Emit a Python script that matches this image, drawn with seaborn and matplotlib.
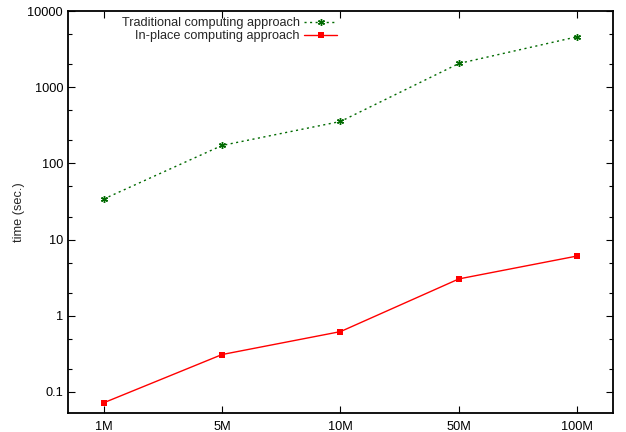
import numpy as np
import pandas as pd
import matplotlib
matplotlib.use("Agg")
import matplotlib.pyplot as plt
import matplotlib.ticker as mticker
import seaborn as sns

sizes = ["1M", "5M", "10M", "50M", "100M"]
traditional = [34, 172, 355, 2050, 4600]
inplace = [0.072, 0.31, 0.62, 3.05, 6.1]

sns.set_style("ticks")
plt.rcParams['font.family'] = ['Liberation Sans', 'DejaVu Sans']
plt.rcParams['font.size'] = 9.2

df = pd.DataFrame({"size": sizes, "pos": range(len(sizes)),
                   "traditional": traditional, "inplace": inplace})

fig = plt.figure(figsize=(6.26, 4.32), dpi=100)
ax = fig.add_axes([0.1086, 0.044, 0.8706, 0.9305])

sns.lineplot(data=df, x="pos", y="traditional", ax=ax, color="#006a00",
             linestyle=(0, (1.5, 2.5)), linewidth=1.0, marker=(6, 2, 0),
             markersize=5, markeredgewidth=1.0, markeredgecolor="#006a00",
             label="Traditional computing approach")
sns.lineplot(data=df, x="pos", y="inplace", ax=ax, color="#ff0000",
             linewidth=1.0, marker="s", markersize=5, markeredgewidth=0,
             label="In-place computing approach")

ax.set_yscale("log")
ax.set_ylim(0.053, 10000)
ax.set_xlim(-0.3, 4.3)
ax.set_xticks(range(len(sizes)))
ax.set_xticklabels(sizes)
ax.yaxis.set_major_locator(mticker.LogLocator(base=10, numticks=10))
ax.yaxis.set_minor_locator(mticker.LogLocator(base=10, subs=(2, 5), numticks=10))
ax.yaxis.set_minor_formatter(mticker.NullFormatter())
ax.yaxis.set_major_formatter(mticker.FuncFormatter(lambda v, p: f"{v:g}"))
ax.set_xlabel("")
ax.set_ylabel("time (sec.)", fontsize=9.2)
ax.yaxis.set_label_coords(-0.078, 0.5)

ax.tick_params(which="both", direction="in", top=True, right=True,
               colors="#000000", labelsize=9.2, width=0.8)
ax.tick_params(which="major", length=5)
ax.tick_params(which="minor", length=3)
ax.tick_params(axis="x", pad=6)
for s in ax.spines.values():
    s.set_visible(True)
    s.set_linewidth(1.3)
    s.set_color("black")
ax.grid(False)

ax.legend(loc="upper right", bbox_to_anchor=(0.494, 0.985), frameon=False,
          markerfirst=False, borderaxespad=0, borderpad=0, handlelength=2.6,
          handletextpad=0.35, labelspacing=0.1, fontsize=9.2)

fig.savefig("out.png", dpi=100)
